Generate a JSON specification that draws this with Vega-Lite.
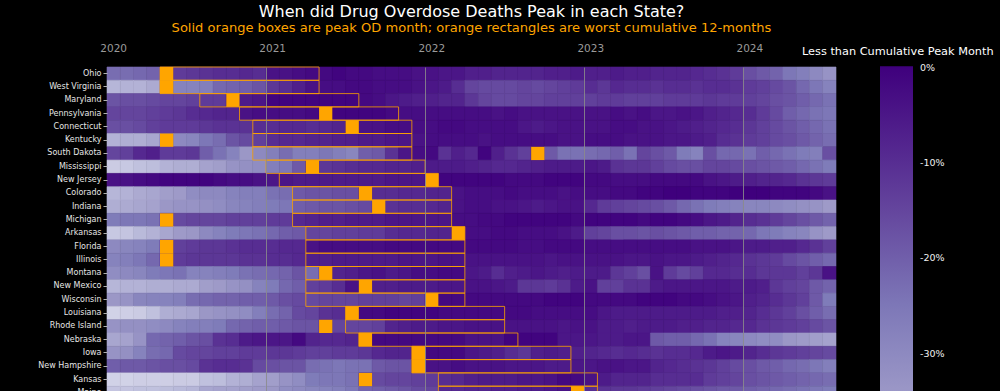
{
"$schema": "https://vega.github.io/schema/vega-lite/v6.json",
"background": "black",
"autosize": {"type": "none"},
"padding": {"left": 107, "top": 67, "right": 164, "bottom": 0},
"width": 729,
"height": 332.5,
"title": {"text": "When did Drug Overdose Deaths Peak in each State?", "subtitle": "Solid orange boxes are peak OD month; orange rectangles are worst cumulative 12-months", "color": "white", "subtitleColor": "#FFA500", "fontSize": 16, "subtitleFontSize": 13.05, "font": "DejaVu Sans", "subtitleFont": "DejaVu Sans", "fontWeight": "normal", "anchor": "middle", "frame": "group", "offset": 8, "subtitlePadding": 2},
"datasets": {
"peaks": [
{"s":"Ohio","m":"2020-05"},{"s":"West Virginia","m":"2020-05"},{"s":"Maryland","m":"2020-10"},{"s":"Pennsylvania","m":"2021-05"},{"s":"Connecticut","m":"2021-07"},{"s":"Kentucky","m":"2020-05"},{"s":"South Dakota","m":"2022-09"},{"s":"Mississippi","m":"2021-04"},{"s":"New Jersey","m":"2022-01"},{"s":"Colorado","m":"2021-08"},{"s":"Indiana","m":"2021-09"},{"s":"Michigan","m":"2020-05"},{"s":"Arkansas","m":"2022-03"},{"s":"Florida","m":"2020-05"},{"s":"Illinois","m":"2020-05"},{"s":"Montana","m":"2021-05"},{"s":"New Mexico","m":"2021-08"},{"s":"Wisconsin","m":"2022-01"},{"s":"Louisiana","m":"2021-07"},{"s":"Rhode Island","m":"2021-05"},{"s":"Nebraska","m":"2021-08"},{"s":"Iowa","m":"2021-12"},{"s":"New Hampshire","m":"2021-12"},{"s":"Kansas","m":"2021-08"},{"s":"Maine","m":"2022-12"}
],
"spans": [
{"s":"Ohio","a":"2020-05","b":"2021-04"},{"s":"West Virginia","a":"2020-05","b":"2021-04"},{"s":"Maryland","a":"2020-08","b":"2021-07"},{"s":"Pennsylvania","a":"2020-11","b":"2021-10"},{"s":"Connecticut","a":"2020-12","b":"2021-11"},{"s":"Kentucky","a":"2020-12","b":"2021-11"},{"s":"South Dakota","a":"2020-12","b":"2021-11"},{"s":"Mississippi","a":"2021-01","b":"2021-12"},{"s":"New Jersey","a":"2021-02","b":"2022-01"},{"s":"Colorado","a":"2021-03","b":"2022-02"},{"s":"Indiana","a":"2021-03","b":"2022-02"},{"s":"Michigan","a":"2021-03","b":"2022-02"},{"s":"Arkansas","a":"2021-04","b":"2022-03"},{"s":"Florida","a":"2021-04","b":"2022-03"},{"s":"Illinois","a":"2021-04","b":"2022-03"},{"s":"Montana","a":"2021-04","b":"2022-03"},{"s":"New Mexico","a":"2021-04","b":"2022-03"},{"s":"Wisconsin","a":"2021-04","b":"2022-03"},{"s":"Louisiana","a":"2021-07","b":"2022-06"},{"s":"Rhode Island","a":"2021-07","b":"2022-06"},{"s":"Nebraska","a":"2021-08","b":"2022-07"},{"s":"Iowa","a":"2021-12","b":"2022-11"},{"s":"New Hampshire","a":"2021-12","b":"2022-11"},{"s":"Kansas","a":"2022-02","b":"2023-01"},{"s":"Maine","a":"2022-02","b":"2023-01"}
],
"cells": [
{"s":"Ohio","m":"2020-01","v":-23},{"s":"Ohio","m":"2020-02","v":-23},{"s":"Ohio","m":"2020-03","v":-22},{"s":"Ohio","m":"2020-04","v":-21},{"s":"Ohio","m":"2020-05","v":-10},{"s":"Ohio","m":"2020-06","v":-13},{"s":"Ohio","m":"2020-07","v":-12},{"s":"Ohio","m":"2020-08","v":-11},{"s":"Ohio","m":"2020-09","v":-10},{"s":"Ohio","m":"2020-10","v":-10},{"s":"Ohio","m":"2020-11","v":-9},{"s":"Ohio","m":"2020-12","v":-10},
{"s":"Ohio","m":"2021-01","v":-4},{"s":"Ohio","m":"2021-02","v":-4},{"s":"Ohio","m":"2021-03","v":-3},{"s":"Ohio","m":"2021-04","v":-2},{"s":"Ohio","m":"2021-05","v":-2},{"s":"Ohio","m":"2021-06","v":-1},{"s":"Ohio","m":"2021-07","v":-2},{"s":"Ohio","m":"2021-08","v":-2},{"s":"Ohio","m":"2021-09","v":-3},{"s":"Ohio","m":"2021-10","v":-3},{"s":"Ohio","m":"2021-11","v":-3},{"s":"Ohio","m":"2021-12","v":-4},
{"s":"Ohio","m":"2022-01","v":-4},{"s":"Ohio","m":"2022-02","v":-5},{"s":"Ohio","m":"2022-03","v":-5},{"s":"Ohio","m":"2022-04","v":-7},{"s":"Ohio","m":"2022-05","v":-7},{"s":"Ohio","m":"2022-06","v":-8},{"s":"Ohio","m":"2022-07","v":-8},{"s":"Ohio","m":"2022-08","v":-8},{"s":"Ohio","m":"2022-09","v":-8},{"s":"Ohio","m":"2022-10","v":-7},{"s":"Ohio","m":"2022-11","v":-7},{"s":"Ohio","m":"2022-12","v":-6},
{"s":"Ohio","m":"2023-01","v":-7},{"s":"Ohio","m":"2023-02","v":-7},{"s":"Ohio","m":"2023-03","v":-6},{"s":"Ohio","m":"2023-04","v":-7},{"s":"Ohio","m":"2023-05","v":-7},{"s":"Ohio","m":"2023-06","v":-8},{"s":"Ohio","m":"2023-07","v":-8},{"s":"Ohio","m":"2023-08","v":-8},{"s":"Ohio","m":"2023-09","v":-9},{"s":"Ohio","m":"2023-10","v":-10},{"s":"Ohio","m":"2023-11","v":-11},{"s":"Ohio","m":"2023-12","v":-13},
{"s":"Ohio","m":"2024-01","v":-17},{"s":"Ohio","m":"2024-02","v":-19},{"s":"Ohio","m":"2024-03","v":-21},{"s":"Ohio","m":"2024-04","v":-25},{"s":"Ohio","m":"2024-05","v":-27},{"s":"Ohio","m":"2024-06","v":-30},{"s":"Ohio","m":"2024-07","v":-33},
{"s":"West Virginia","m":"2020-01","v":-42},{"s":"West Virginia","m":"2020-02","v":-41},{"s":"West Virginia","m":"2020-03","v":-41},{"s":"West Virginia","m":"2020-04","v":-39},{"s":"West Virginia","m":"2020-05","v":-20},{"s":"West Virginia","m":"2020-06","v":-28},{"s":"West Virginia","m":"2020-07","v":-28},{"s":"West Virginia","m":"2020-08","v":-27},{"s":"West Virginia","m":"2020-09","v":-22},{"s":"West Virginia","m":"2020-10","v":-21},{"s":"West Virginia","m":"2020-11","v":-20},{"s":"West Virginia","m":"2020-12","v":-18},
{"s":"West Virginia","m":"2021-01","v":-12},{"s":"West Virginia","m":"2021-02","v":-10},{"s":"West Virginia","m":"2021-03","v":-7},{"s":"West Virginia","m":"2021-04","v":-4},{"s":"West Virginia","m":"2021-05","v":-3},{"s":"West Virginia","m":"2021-06","v":-3},{"s":"West Virginia","m":"2021-07","v":-2},{"s":"West Virginia","m":"2021-08","v":-2},{"s":"West Virginia","m":"2021-09","v":-3},{"s":"West Virginia","m":"2021-10","v":-3},{"s":"West Virginia","m":"2021-11","v":-3},{"s":"West Virginia","m":"2021-12","v":-4},
{"s":"West Virginia","m":"2022-01","v":-5},{"s":"West Virginia","m":"2022-02","v":-6},{"s":"West Virginia","m":"2022-03","v":-10},{"s":"West Virginia","m":"2022-04","v":-15},{"s":"West Virginia","m":"2022-05","v":-16},{"s":"West Virginia","m":"2022-06","v":-16},{"s":"West Virginia","m":"2022-07","v":-16},{"s":"West Virginia","m":"2022-08","v":-15},{"s":"West Virginia","m":"2022-09","v":-16},{"s":"West Virginia","m":"2022-10","v":-15},{"s":"West Virginia","m":"2022-11","v":-14},{"s":"West Virginia","m":"2022-12","v":-13},
{"s":"West Virginia","m":"2023-01","v":-10},{"s":"West Virginia","m":"2023-02","v":-12},{"s":"West Virginia","m":"2023-03","v":-9},{"s":"West Virginia","m":"2023-04","v":-10},{"s":"West Virginia","m":"2023-05","v":-10},{"s":"West Virginia","m":"2023-06","v":-11},{"s":"West Virginia","m":"2023-07","v":-10},{"s":"West Virginia","m":"2023-08","v":-10},{"s":"West Virginia","m":"2023-09","v":-11},{"s":"West Virginia","m":"2023-10","v":-10},{"s":"West Virginia","m":"2023-11","v":-10},{"s":"West Virginia","m":"2023-12","v":-11},
{"s":"West Virginia","m":"2024-01","v":-13},{"s":"West Virginia","m":"2024-02","v":-14},{"s":"West Virginia","m":"2024-03","v":-16},{"s":"West Virginia","m":"2024-04","v":-18},{"s":"West Virginia","m":"2024-05","v":-22},{"s":"West Virginia","m":"2024-06","v":-25},{"s":"West Virginia","m":"2024-07","v":-28},
{"s":"Maryland","m":"2020-01","v":-18},{"s":"Maryland","m":"2020-02","v":-17},{"s":"Maryland","m":"2020-03","v":-17},{"s":"Maryland","m":"2020-04","v":-16},{"s":"Maryland","m":"2020-05","v":-15},{"s":"Maryland","m":"2020-06","v":-15},{"s":"Maryland","m":"2020-07","v":-14},{"s":"Maryland","m":"2020-08","v":-13},{"s":"Maryland","m":"2020-09","v":-13},{"s":"Maryland","m":"2020-10","v":-5},{"s":"Maryland","m":"2020-11","v":-6},{"s":"Maryland","m":"2020-12","v":-5},
{"s":"Maryland","m":"2021-01","v":-1},{"s":"Maryland","m":"2021-02","v":-1},{"s":"Maryland","m":"2021-03","v":-1},{"s":"Maryland","m":"2021-04","v":-1},{"s":"Maryland","m":"2021-05","v":-1},{"s":"Maryland","m":"2021-06","v":-1},{"s":"Maryland","m":"2021-07","v":-1},{"s":"Maryland","m":"2021-08","v":-2},{"s":"Maryland","m":"2021-09","v":-3},{"s":"Maryland","m":"2021-10","v":-5},{"s":"Maryland","m":"2021-11","v":-6},{"s":"Maryland","m":"2021-12","v":-7},
{"s":"Maryland","m":"2022-01","v":-7},{"s":"Maryland","m":"2022-02","v":-8},{"s":"Maryland","m":"2022-03","v":-8},{"s":"Maryland","m":"2022-04","v":-12},{"s":"Maryland","m":"2022-05","v":-15},{"s":"Maryland","m":"2022-06","v":-16},{"s":"Maryland","m":"2022-07","v":-16},{"s":"Maryland","m":"2022-08","v":-15},{"s":"Maryland","m":"2022-09","v":-15},{"s":"Maryland","m":"2022-10","v":-14},{"s":"Maryland","m":"2022-11","v":-14},{"s":"Maryland","m":"2022-12","v":-14},
{"s":"Maryland","m":"2023-01","v":-14},{"s":"Maryland","m":"2023-02","v":-13},{"s":"Maryland","m":"2023-03","v":-13},{"s":"Maryland","m":"2023-04","v":-14},{"s":"Maryland","m":"2023-05","v":-14},{"s":"Maryland","m":"2023-06","v":-14},{"s":"Maryland","m":"2023-07","v":-13},{"s":"Maryland","m":"2023-08","v":-13},{"s":"Maryland","m":"2023-09","v":-13},{"s":"Maryland","m":"2023-10","v":-12},{"s":"Maryland","m":"2023-11","v":-13},{"s":"Maryland","m":"2023-12","v":-13},
{"s":"Maryland","m":"2024-01","v":-14},{"s":"Maryland","m":"2024-02","v":-15},{"s":"Maryland","m":"2024-03","v":-17},{"s":"Maryland","m":"2024-04","v":-18},{"s":"Maryland","m":"2024-05","v":-20},{"s":"Maryland","m":"2024-06","v":-22},{"s":"Maryland","m":"2024-07","v":-24},
{"s":"Pennsylvania","m":"2020-01","v":-15},{"s":"Pennsylvania","m":"2020-02","v":-15},{"s":"Pennsylvania","m":"2020-03","v":-15},{"s":"Pennsylvania","m":"2020-04","v":-14},{"s":"Pennsylvania","m":"2020-05","v":-13},{"s":"Pennsylvania","m":"2020-06","v":-12},{"s":"Pennsylvania","m":"2020-07","v":-10},{"s":"Pennsylvania","m":"2020-08","v":-9},{"s":"Pennsylvania","m":"2020-09","v":-8},{"s":"Pennsylvania","m":"2020-10","v":-8},{"s":"Pennsylvania","m":"2020-11","v":-4},{"s":"Pennsylvania","m":"2020-12","v":-3},
{"s":"Pennsylvania","m":"2021-01","v":-3},{"s":"Pennsylvania","m":"2021-02","v":-3},{"s":"Pennsylvania","m":"2021-03","v":-3},{"s":"Pennsylvania","m":"2021-04","v":-2},{"s":"Pennsylvania","m":"2021-05","v":-1},{"s":"Pennsylvania","m":"2021-06","v":-1},{"s":"Pennsylvania","m":"2021-07","v":-1},{"s":"Pennsylvania","m":"2021-08","v":-1},{"s":"Pennsylvania","m":"2021-09","v":-1},{"s":"Pennsylvania","m":"2021-10","v":-2},{"s":"Pennsylvania","m":"2021-11","v":-3},{"s":"Pennsylvania","m":"2021-12","v":-3},
{"s":"Pennsylvania","m":"2022-01","v":-3},{"s":"Pennsylvania","m":"2022-02","v":-3},{"s":"Pennsylvania","m":"2022-03","v":-3},{"s":"Pennsylvania","m":"2022-04","v":-3},{"s":"Pennsylvania","m":"2022-05","v":-3},{"s":"Pennsylvania","m":"2022-06","v":-4},{"s":"Pennsylvania","m":"2022-07","v":-3},{"s":"Pennsylvania","m":"2022-08","v":-4},{"s":"Pennsylvania","m":"2022-09","v":-4},{"s":"Pennsylvania","m":"2022-10","v":-4},{"s":"Pennsylvania","m":"2022-11","v":-4},{"s":"Pennsylvania","m":"2022-12","v":-4},
{"s":"Pennsylvania","m":"2023-01","v":-4},{"s":"Pennsylvania","m":"2023-02","v":-4},{"s":"Pennsylvania","m":"2023-03","v":-3},{"s":"Pennsylvania","m":"2023-04","v":-4},{"s":"Pennsylvania","m":"2023-05","v":-3},{"s":"Pennsylvania","m":"2023-06","v":-5},{"s":"Pennsylvania","m":"2023-07","v":-5},{"s":"Pennsylvania","m":"2023-08","v":-4},{"s":"Pennsylvania","m":"2023-09","v":-5},{"s":"Pennsylvania","m":"2023-10","v":-7},{"s":"Pennsylvania","m":"2023-11","v":-8},{"s":"Pennsylvania","m":"2023-12","v":-9},
{"s":"Pennsylvania","m":"2024-01","v":-10},{"s":"Pennsylvania","m":"2024-02","v":-13},{"s":"Pennsylvania","m":"2024-03","v":-16},{"s":"Pennsylvania","m":"2024-04","v":-20},{"s":"Pennsylvania","m":"2024-05","v":-22},{"s":"Pennsylvania","m":"2024-06","v":-24},{"s":"Pennsylvania","m":"2024-07","v":-25},
{"s":"Connecticut","m":"2020-01","v":-17},{"s":"Connecticut","m":"2020-02","v":-17},{"s":"Connecticut","m":"2020-03","v":-16},{"s":"Connecticut","m":"2020-04","v":-14},{"s":"Connecticut","m":"2020-05","v":-13},{"s":"Connecticut","m":"2020-06","v":-13},{"s":"Connecticut","m":"2020-07","v":-13},{"s":"Connecticut","m":"2020-08","v":-12},{"s":"Connecticut","m":"2020-09","v":-11},{"s":"Connecticut","m":"2020-10","v":-11},{"s":"Connecticut","m":"2020-11","v":-11},{"s":"Connecticut","m":"2020-12","v":-10},
{"s":"Connecticut","m":"2021-01","v":-10},{"s":"Connecticut","m":"2021-02","v":-9},{"s":"Connecticut","m":"2021-03","v":-9},{"s":"Connecticut","m":"2021-04","v":-10},{"s":"Connecticut","m":"2021-05","v":-9},{"s":"Connecticut","m":"2021-06","v":-8},{"s":"Connecticut","m":"2021-07","v":-3},{"s":"Connecticut","m":"2021-08","v":-4},{"s":"Connecticut","m":"2021-09","v":-4},{"s":"Connecticut","m":"2021-10","v":-3},{"s":"Connecticut","m":"2021-11","v":-3},{"s":"Connecticut","m":"2021-12","v":-3},
{"s":"Connecticut","m":"2022-01","v":-3},{"s":"Connecticut","m":"2022-02","v":-2},{"s":"Connecticut","m":"2022-03","v":-2},{"s":"Connecticut","m":"2022-04","v":-3},{"s":"Connecticut","m":"2022-05","v":-3},{"s":"Connecticut","m":"2022-06","v":-3},{"s":"Connecticut","m":"2022-07","v":-3},{"s":"Connecticut","m":"2022-08","v":-5},{"s":"Connecticut","m":"2022-09","v":-6},{"s":"Connecticut","m":"2022-10","v":-5},{"s":"Connecticut","m":"2022-11","v":-4},{"s":"Connecticut","m":"2022-12","v":-4},
{"s":"Connecticut","m":"2023-01","v":-4},{"s":"Connecticut","m":"2023-02","v":-4},{"s":"Connecticut","m":"2023-03","v":-3},{"s":"Connecticut","m":"2023-04","v":-3},{"s":"Connecticut","m":"2023-05","v":-4},{"s":"Connecticut","m":"2023-06","v":-4},{"s":"Connecticut","m":"2023-07","v":-5},{"s":"Connecticut","m":"2023-08","v":-6},{"s":"Connecticut","m":"2023-09","v":-7},{"s":"Connecticut","m":"2023-10","v":-8},{"s":"Connecticut","m":"2023-11","v":-9},{"s":"Connecticut","m":"2023-12","v":-10},
{"s":"Connecticut","m":"2024-01","v":-12},{"s":"Connecticut","m":"2024-02","v":-14},{"s":"Connecticut","m":"2024-03","v":-16},{"s":"Connecticut","m":"2024-04","v":-18},{"s":"Connecticut","m":"2024-05","v":-20},{"s":"Connecticut","m":"2024-06","v":-22},{"s":"Connecticut","m":"2024-07","v":-24},
{"s":"Kentucky","m":"2020-01","v":-41},{"s":"Kentucky","m":"2020-02","v":-40},{"s":"Kentucky","m":"2020-03","v":-40},{"s":"Kentucky","m":"2020-04","v":-38},{"s":"Kentucky","m":"2020-05","v":-20},{"s":"Kentucky","m":"2020-06","v":-30},{"s":"Kentucky","m":"2020-07","v":-29},{"s":"Kentucky","m":"2020-08","v":-25},{"s":"Kentucky","m":"2020-09","v":-23},{"s":"Kentucky","m":"2020-10","v":-18},{"s":"Kentucky","m":"2020-11","v":-16},{"s":"Kentucky","m":"2020-12","v":-14},
{"s":"Kentucky","m":"2021-01","v":-10},{"s":"Kentucky","m":"2021-02","v":-9},{"s":"Kentucky","m":"2021-03","v":-9},{"s":"Kentucky","m":"2021-04","v":-8},{"s":"Kentucky","m":"2021-05","v":-8},{"s":"Kentucky","m":"2021-06","v":-7},{"s":"Kentucky","m":"2021-07","v":-7},{"s":"Kentucky","m":"2021-08","v":-6},{"s":"Kentucky","m":"2021-09","v":-6},{"s":"Kentucky","m":"2021-10","v":-5},{"s":"Kentucky","m":"2021-11","v":-5},{"s":"Kentucky","m":"2021-12","v":-4},
{"s":"Kentucky","m":"2022-01","v":-3},{"s":"Kentucky","m":"2022-02","v":-3},{"s":"Kentucky","m":"2022-03","v":-3},{"s":"Kentucky","m":"2022-04","v":-3},{"s":"Kentucky","m":"2022-05","v":-4},{"s":"Kentucky","m":"2022-06","v":-3},{"s":"Kentucky","m":"2022-07","v":-3},{"s":"Kentucky","m":"2022-08","v":-3},{"s":"Kentucky","m":"2022-09","v":-3},{"s":"Kentucky","m":"2022-10","v":-3},{"s":"Kentucky","m":"2022-11","v":-4},{"s":"Kentucky","m":"2022-12","v":-4},
{"s":"Kentucky","m":"2023-01","v":-3},{"s":"Kentucky","m":"2023-02","v":-3},{"s":"Kentucky","m":"2023-03","v":-3},{"s":"Kentucky","m":"2023-04","v":-4},{"s":"Kentucky","m":"2023-05","v":-4},{"s":"Kentucky","m":"2023-06","v":-4},{"s":"Kentucky","m":"2023-07","v":-5},{"s":"Kentucky","m":"2023-08","v":-5},{"s":"Kentucky","m":"2023-09","v":-6},{"s":"Kentucky","m":"2023-10","v":-7},{"s":"Kentucky","m":"2023-11","v":-10},{"s":"Kentucky","m":"2023-12","v":-11},
{"s":"Kentucky","m":"2024-01","v":-13},{"s":"Kentucky","m":"2024-02","v":-14},{"s":"Kentucky","m":"2024-03","v":-16},{"s":"Kentucky","m":"2024-04","v":-17},{"s":"Kentucky","m":"2024-05","v":-19},{"s":"Kentucky","m":"2024-06","v":-21},{"s":"Kentucky","m":"2024-07","v":-23},
{"s":"South Dakota","m":"2020-01","v":-15},{"s":"South Dakota","m":"2020-02","v":-14},{"s":"South Dakota","m":"2020-03","v":-9},{"s":"South Dakota","m":"2020-04","v":-7},{"s":"South Dakota","m":"2020-05","v":-13},{"s":"South Dakota","m":"2020-06","v":-13},{"s":"South Dakota","m":"2020-07","v":-12},{"s":"South Dakota","m":"2020-08","v":-20},{"s":"South Dakota","m":"2020-09","v":-24},{"s":"South Dakota","m":"2020-10","v":-28},{"s":"South Dakota","m":"2020-11","v":-34},{"s":"South Dakota","m":"2020-12","v":-30},
{"s":"South Dakota","m":"2021-01","v":-27},{"s":"South Dakota","m":"2021-02","v":-23},{"s":"South Dakota","m":"2021-03","v":-27},{"s":"South Dakota","m":"2021-04","v":-27},{"s":"South Dakota","m":"2021-05","v":-25},{"s":"South Dakota","m":"2021-06","v":-27},{"s":"South Dakota","m":"2021-07","v":-29},{"s":"South Dakota","m":"2021-08","v":-20},{"s":"South Dakota","m":"2021-09","v":-19},{"s":"South Dakota","m":"2021-10","v":-11},{"s":"South Dakota","m":"2021-11","v":-5},{"s":"South Dakota","m":"2021-12","v":-3},
{"s":"South Dakota","m":"2022-01","v":-2},{"s":"South Dakota","m":"2022-02","v":-11},{"s":"South Dakota","m":"2022-03","v":-7},{"s":"South Dakota","m":"2022-04","v":-9},{"s":"South Dakota","m":"2022-05","v":-1},{"s":"South Dakota","m":"2022-06","v":-7},{"s":"South Dakota","m":"2022-07","v":-11},{"s":"South Dakota","m":"2022-08","v":-14},{"s":"South Dakota","m":"2022-09","v":-5},{"s":"South Dakota","m":"2022-10","v":-19},{"s":"South Dakota","m":"2022-11","v":-24},{"s":"South Dakota","m":"2022-12","v":-24},
{"s":"South Dakota","m":"2023-01","v":-23},{"s":"South Dakota","m":"2023-02","v":-22},{"s":"South Dakota","m":"2023-03","v":-20},{"s":"South Dakota","m":"2023-04","v":-24},{"s":"South Dakota","m":"2023-05","v":-15},{"s":"South Dakota","m":"2023-06","v":-17},{"s":"South Dakota","m":"2023-07","v":-19},{"s":"South Dakota","m":"2023-08","v":-26},{"s":"South Dakota","m":"2023-09","v":-28},{"s":"South Dakota","m":"2023-10","v":-17},{"s":"South Dakota","m":"2023-11","v":-22},{"s":"South Dakota","m":"2023-12","v":-22},
{"s":"South Dakota","m":"2024-01","v":-24},{"s":"South Dakota","m":"2024-02","v":-20},{"s":"South Dakota","m":"2024-03","v":-22},{"s":"South Dakota","m":"2024-04","v":-24},{"s":"South Dakota","m":"2024-05","v":-26},{"s":"South Dakota","m":"2024-06","v":-27},{"s":"South Dakota","m":"2024-07","v":-17},
{"s":"Mississippi","m":"2020-01","v":-48},{"s":"Mississippi","m":"2020-02","v":-47},{"s":"Mississippi","m":"2020-03","v":-45},{"s":"Mississippi","m":"2020-04","v":-44},{"s":"Mississippi","m":"2020-05","v":-41},{"s":"Mississippi","m":"2020-06","v":-40},{"s":"Mississippi","m":"2020-07","v":-40},{"s":"Mississippi","m":"2020-08","v":-37},{"s":"Mississippi","m":"2020-09","v":-36},{"s":"Mississippi","m":"2020-10","v":-33},{"s":"Mississippi","m":"2020-11","v":-32},{"s":"Mississippi","m":"2020-12","v":-31},
{"s":"Mississippi","m":"2021-01","v":-27},{"s":"Mississippi","m":"2021-02","v":-25},{"s":"Mississippi","m":"2021-03","v":-19},{"s":"Mississippi","m":"2021-04","v":-8},{"s":"Mississippi","m":"2021-05","v":-12},{"s":"Mississippi","m":"2021-06","v":-11},{"s":"Mississippi","m":"2021-07","v":-10},{"s":"Mississippi","m":"2021-08","v":-9},{"s":"Mississippi","m":"2021-09","v":-9},{"s":"Mississippi","m":"2021-10","v":-8},{"s":"Mississippi","m":"2021-11","v":-8},{"s":"Mississippi","m":"2021-12","v":-7},
{"s":"Mississippi","m":"2022-01","v":-6},{"s":"Mississippi","m":"2022-02","v":-6},{"s":"Mississippi","m":"2022-03","v":-6},{"s":"Mississippi","m":"2022-04","v":-7},{"s":"Mississippi","m":"2022-05","v":-8},{"s":"Mississippi","m":"2022-06","v":-9},{"s":"Mississippi","m":"2022-07","v":-9},{"s":"Mississippi","m":"2022-08","v":-8},{"s":"Mississippi","m":"2022-09","v":-7},{"s":"Mississippi","m":"2022-10","v":-6},{"s":"Mississippi","m":"2022-11","v":-6},{"s":"Mississippi","m":"2022-12","v":-6},
{"s":"Mississippi","m":"2023-01","v":-5},{"s":"Mississippi","m":"2023-02","v":-6},{"s":"Mississippi","m":"2023-03","v":-11},{"s":"Mississippi","m":"2023-04","v":-12},{"s":"Mississippi","m":"2023-05","v":-12},{"s":"Mississippi","m":"2023-06","v":-14},{"s":"Mississippi","m":"2023-07","v":-16},{"s":"Mississippi","m":"2023-08","v":-17},{"s":"Mississippi","m":"2023-09","v":-17},{"s":"Mississippi","m":"2023-10","v":-15},{"s":"Mississippi","m":"2023-11","v":-15},{"s":"Mississippi","m":"2023-12","v":-16},
{"s":"Mississippi","m":"2024-01","v":-17},{"s":"Mississippi","m":"2024-02","v":-18},{"s":"Mississippi","m":"2024-03","v":-19},{"s":"Mississippi","m":"2024-04","v":-20},{"s":"Mississippi","m":"2024-05","v":-22},{"s":"Mississippi","m":"2024-06","v":-24},{"s":"Mississippi","m":"2024-07","v":-26},
{"s":"New Jersey","m":"2020-01","v":-4},{"s":"New Jersey","m":"2020-02","v":-4},{"s":"New Jersey","m":"2020-03","v":-3},{"s":"New Jersey","m":"2020-04","v":-2},{"s":"New Jersey","m":"2020-05","v":-1},{"s":"New Jersey","m":"2020-06","v":-1},{"s":"New Jersey","m":"2020-07","v":-1},{"s":"New Jersey","m":"2020-08","v":-1},{"s":"New Jersey","m":"2020-09","v":-2},{"s":"New Jersey","m":"2020-10","v":-3},{"s":"New Jersey","m":"2020-11","v":-3},{"s":"New Jersey","m":"2020-12","v":-4},
{"s":"New Jersey","m":"2021-01","v":-5},{"s":"New Jersey","m":"2021-02","v":-5},{"s":"New Jersey","m":"2021-03","v":-6},{"s":"New Jersey","m":"2021-04","v":-6},{"s":"New Jersey","m":"2021-05","v":-6},{"s":"New Jersey","m":"2021-06","v":-6},{"s":"New Jersey","m":"2021-07","v":-6},{"s":"New Jersey","m":"2021-08","v":-6},{"s":"New Jersey","m":"2021-09","v":-6},{"s":"New Jersey","m":"2021-10","v":-5},{"s":"New Jersey","m":"2021-11","v":-5},{"s":"New Jersey","m":"2021-12","v":-5},
{"s":"New Jersey","m":"2022-01","v":0},{"s":"New Jersey","m":"2022-02","v":-1},{"s":"New Jersey","m":"2022-03","v":-1},{"s":"New Jersey","m":"2022-04","v":-1},{"s":"New Jersey","m":"2022-05","v":-1},{"s":"New Jersey","m":"2022-06","v":-1},{"s":"New Jersey","m":"2022-07","v":-2},{"s":"New Jersey","m":"2022-08","v":-2},{"s":"New Jersey","m":"2022-09","v":-2},{"s":"New Jersey","m":"2022-10","v":-1},{"s":"New Jersey","m":"2022-11","v":-1},{"s":"New Jersey","m":"2022-12","v":-1},
{"s":"New Jersey","m":"2023-01","v":-2},{"s":"New Jersey","m":"2023-02","v":-2},{"s":"New Jersey","m":"2023-03","v":-3},{"s":"New Jersey","m":"2023-04","v":-3},{"s":"New Jersey","m":"2023-05","v":-3},{"s":"New Jersey","m":"2023-06","v":-2},{"s":"New Jersey","m":"2023-07","v":-2},{"s":"New Jersey","m":"2023-08","v":-2},{"s":"New Jersey","m":"2023-09","v":-2},{"s":"New Jersey","m":"2023-10","v":-4},{"s":"New Jersey","m":"2023-11","v":-5},{"s":"New Jersey","m":"2023-12","v":-6},
{"s":"New Jersey","m":"2024-01","v":-7},{"s":"New Jersey","m":"2024-02","v":-8},{"s":"New Jersey","m":"2024-03","v":-8},{"s":"New Jersey","m":"2024-04","v":-9},{"s":"New Jersey","m":"2024-05","v":-11},{"s":"New Jersey","m":"2024-06","v":-12},{"s":"New Jersey","m":"2024-07","v":-13},
{"s":"Colorado","m":"2020-01","v":-42},{"s":"Colorado","m":"2020-02","v":-41},{"s":"Colorado","m":"2020-03","v":-39},{"s":"Colorado","m":"2020-04","v":-38},{"s":"Colorado","m":"2020-05","v":-36},{"s":"Colorado","m":"2020-06","v":-35},{"s":"Colorado","m":"2020-07","v":-31},{"s":"Colorado","m":"2020-08","v":-30},{"s":"Colorado","m":"2020-09","v":-30},{"s":"Colorado","m":"2020-10","v":-28},{"s":"Colorado","m":"2020-11","v":-27},{"s":"Colorado","m":"2020-12","v":-27},
{"s":"Colorado","m":"2021-01","v":-24},{"s":"Colorado","m":"2021-02","v":-23},{"s":"Colorado","m":"2021-03","v":-19},{"s":"Colorado","m":"2021-04","v":-18},{"s":"Colorado","m":"2021-05","v":-18},{"s":"Colorado","m":"2021-06","v":-17},{"s":"Colorado","m":"2021-07","v":-17},{"s":"Colorado","m":"2021-08","v":-8},{"s":"Colorado","m":"2021-09","v":-10},{"s":"Colorado","m":"2021-10","v":-10},{"s":"Colorado","m":"2021-11","v":-9},{"s":"Colorado","m":"2021-12","v":-9},
{"s":"Colorado","m":"2022-01","v":-8},{"s":"Colorado","m":"2022-02","v":-8},{"s":"Colorado","m":"2022-03","v":-4},{"s":"Colorado","m":"2022-04","v":-3},{"s":"Colorado","m":"2022-05","v":-3},{"s":"Colorado","m":"2022-06","v":-3},{"s":"Colorado","m":"2022-07","v":-2},{"s":"Colorado","m":"2022-08","v":-3},{"s":"Colorado","m":"2022-09","v":-3},{"s":"Colorado","m":"2022-10","v":-3},{"s":"Colorado","m":"2022-11","v":-4},{"s":"Colorado","m":"2022-12","v":-3},
{"s":"Colorado","m":"2023-01","v":-3},{"s":"Colorado","m":"2023-02","v":-3},{"s":"Colorado","m":"2023-03","v":-2},{"s":"Colorado","m":"2023-04","v":-2},{"s":"Colorado","m":"2023-05","v":-1},{"s":"Colorado","m":"2023-06","v":-1},{"s":"Colorado","m":"2023-07","v":0},{"s":"Colorado","m":"2023-08","v":0},{"s":"Colorado","m":"2023-09","v":-1},{"s":"Colorado","m":"2023-10","v":-1},{"s":"Colorado","m":"2023-11","v":-1},{"s":"Colorado","m":"2023-12","v":0},
{"s":"Colorado","m":"2024-01","v":0},{"s":"Colorado","m":"2024-02","v":0},{"s":"Colorado","m":"2024-03","v":-1},{"s":"Colorado","m":"2024-04","v":-1},{"s":"Colorado","m":"2024-05","v":-1},{"s":"Colorado","m":"2024-06","v":-2},{"s":"Colorado","m":"2024-07","v":-4},
{"s":"Indiana","m":"2020-01","v":-40},{"s":"Indiana","m":"2020-02","v":-39},{"s":"Indiana","m":"2020-03","v":-38},{"s":"Indiana","m":"2020-04","v":-37},{"s":"Indiana","m":"2020-05","v":-34},{"s":"Indiana","m":"2020-06","v":-33},{"s":"Indiana","m":"2020-07","v":-33},{"s":"Indiana","m":"2020-08","v":-32},{"s":"Indiana","m":"2020-09","v":-31},{"s":"Indiana","m":"2020-10","v":-29},{"s":"Indiana","m":"2020-11","v":-28},{"s":"Indiana","m":"2020-12","v":-27},
{"s":"Indiana","m":"2021-01","v":-26},{"s":"Indiana","m":"2021-02","v":-25},{"s":"Indiana","m":"2021-03","v":-20},{"s":"Indiana","m":"2021-04","v":-19},{"s":"Indiana","m":"2021-05","v":-18},{"s":"Indiana","m":"2021-06","v":-18},{"s":"Indiana","m":"2021-07","v":-17},{"s":"Indiana","m":"2021-08","v":-16},{"s":"Indiana","m":"2021-09","v":-10},{"s":"Indiana","m":"2021-10","v":-11},{"s":"Indiana","m":"2021-11","v":-10},{"s":"Indiana","m":"2021-12","v":-10},
{"s":"Indiana","m":"2022-01","v":-9},{"s":"Indiana","m":"2022-02","v":-8},{"s":"Indiana","m":"2022-03","v":-4},{"s":"Indiana","m":"2022-04","v":-3},{"s":"Indiana","m":"2022-05","v":-3},{"s":"Indiana","m":"2022-06","v":-4},{"s":"Indiana","m":"2022-07","v":-4},{"s":"Indiana","m":"2022-08","v":-5},{"s":"Indiana","m":"2022-09","v":-6},{"s":"Indiana","m":"2022-10","v":-5},{"s":"Indiana","m":"2022-11","v":-4},{"s":"Indiana","m":"2022-12","v":-4},
{"s":"Indiana","m":"2023-01","v":-9},{"s":"Indiana","m":"2023-02","v":-13},{"s":"Indiana","m":"2023-03","v":-14},{"s":"Indiana","m":"2023-04","v":-15},{"s":"Indiana","m":"2023-05","v":-16},{"s":"Indiana","m":"2023-06","v":-17},{"s":"Indiana","m":"2023-07","v":-19},{"s":"Indiana","m":"2023-08","v":-22},{"s":"Indiana","m":"2023-09","v":-24},{"s":"Indiana","m":"2023-10","v":-26},{"s":"Indiana","m":"2023-11","v":-27},{"s":"Indiana","m":"2023-12","v":-28},
{"s":"Indiana","m":"2024-01","v":-29},{"s":"Indiana","m":"2024-02","v":-29},{"s":"Indiana","m":"2024-03","v":-30},{"s":"Indiana","m":"2024-04","v":-31},{"s":"Indiana","m":"2024-05","v":-32},{"s":"Indiana","m":"2024-06","v":-33},{"s":"Indiana","m":"2024-07","v":-35},
{"s":"Michigan","m":"2020-01","v":-26},{"s":"Michigan","m":"2020-02","v":-25},{"s":"Michigan","m":"2020-03","v":-25},{"s":"Michigan","m":"2020-04","v":-24},{"s":"Michigan","m":"2020-05","v":-10},{"s":"Michigan","m":"2020-06","v":-16},{"s":"Michigan","m":"2020-07","v":-15},{"s":"Michigan","m":"2020-08","v":-15},{"s":"Michigan","m":"2020-09","v":-15},{"s":"Michigan","m":"2020-10","v":-14},{"s":"Michigan","m":"2020-11","v":-14},{"s":"Michigan","m":"2020-12","v":-14},
{"s":"Michigan","m":"2021-01","v":-13},{"s":"Michigan","m":"2021-02","v":-13},{"s":"Michigan","m":"2021-03","v":-9},{"s":"Michigan","m":"2021-04","v":-8},{"s":"Michigan","m":"2021-05","v":-7},{"s":"Michigan","m":"2021-06","v":-7},{"s":"Michigan","m":"2021-07","v":-6},{"s":"Michigan","m":"2021-08","v":-6},{"s":"Michigan","m":"2021-09","v":-6},{"s":"Michigan","m":"2021-10","v":-5},{"s":"Michigan","m":"2021-11","v":-5},{"s":"Michigan","m":"2021-12","v":-5},
{"s":"Michigan","m":"2022-01","v":-5},{"s":"Michigan","m":"2022-02","v":-5},{"s":"Michigan","m":"2022-03","v":-3},{"s":"Michigan","m":"2022-04","v":-3},{"s":"Michigan","m":"2022-05","v":-2},{"s":"Michigan","m":"2022-06","v":-2},{"s":"Michigan","m":"2022-07","v":-1},{"s":"Michigan","m":"2022-08","v":-1},{"s":"Michigan","m":"2022-09","v":-1},{"s":"Michigan","m":"2022-10","v":-1},{"s":"Michigan","m":"2022-11","v":-1},{"s":"Michigan","m":"2022-12","v":-2},
{"s":"Michigan","m":"2023-01","v":-1},{"s":"Michigan","m":"2023-02","v":-1},{"s":"Michigan","m":"2023-03","v":-1},{"s":"Michigan","m":"2023-04","v":-1},{"s":"Michigan","m":"2023-05","v":-2},{"s":"Michigan","m":"2023-06","v":-1},{"s":"Michigan","m":"2023-07","v":-1},{"s":"Michigan","m":"2023-08","v":-2},{"s":"Michigan","m":"2023-09","v":-3},{"s":"Michigan","m":"2023-10","v":-5},{"s":"Michigan","m":"2023-11","v":-6},{"s":"Michigan","m":"2023-12","v":-8},
{"s":"Michigan","m":"2024-01","v":-10},{"s":"Michigan","m":"2024-02","v":-11},{"s":"Michigan","m":"2024-03","v":-13},{"s":"Michigan","m":"2024-04","v":-15},{"s":"Michigan","m":"2024-05","v":-17},{"s":"Michigan","m":"2024-06","v":-19},{"s":"Michigan","m":"2024-07","v":-21},
{"s":"Arkansas","m":"2020-01","v":-47},{"s":"Arkansas","m":"2020-02","v":-46},{"s":"Arkansas","m":"2020-03","v":-43},{"s":"Arkansas","m":"2020-04","v":-41},{"s":"Arkansas","m":"2020-05","v":-38},{"s":"Arkansas","m":"2020-06","v":-35},{"s":"Arkansas","m":"2020-07","v":-34},{"s":"Arkansas","m":"2020-08","v":-30},{"s":"Arkansas","m":"2020-09","v":-28},{"s":"Arkansas","m":"2020-10","v":-26},{"s":"Arkansas","m":"2020-11","v":-25},{"s":"Arkansas","m":"2020-12","v":-24},
{"s":"Arkansas","m":"2021-01","v":-22},{"s":"Arkansas","m":"2021-02","v":-20},{"s":"Arkansas","m":"2021-03","v":-19},{"s":"Arkansas","m":"2021-04","v":-15},{"s":"Arkansas","m":"2021-05","v":-15},{"s":"Arkansas","m":"2021-06","v":-14},{"s":"Arkansas","m":"2021-07","v":-14},{"s":"Arkansas","m":"2021-08","v":-13},{"s":"Arkansas","m":"2021-09","v":-13},{"s":"Arkansas","m":"2021-10","v":-10},{"s":"Arkansas","m":"2021-11","v":-9},{"s":"Arkansas","m":"2021-12","v":-9},
{"s":"Arkansas","m":"2022-01","v":-8},{"s":"Arkansas","m":"2022-02","v":-8},{"s":"Arkansas","m":"2022-03","v":-3},{"s":"Arkansas","m":"2022-04","v":-3},{"s":"Arkansas","m":"2022-05","v":-3},{"s":"Arkansas","m":"2022-06","v":-2},{"s":"Arkansas","m":"2022-07","v":-2},{"s":"Arkansas","m":"2022-08","v":-3},{"s":"Arkansas","m":"2022-09","v":-3},{"s":"Arkansas","m":"2022-10","v":-3},{"s":"Arkansas","m":"2022-11","v":-4},{"s":"Arkansas","m":"2022-12","v":-6},
{"s":"Arkansas","m":"2023-01","v":-14},{"s":"Arkansas","m":"2023-02","v":-15},{"s":"Arkansas","m":"2023-03","v":-17},{"s":"Arkansas","m":"2023-04","v":-17},{"s":"Arkansas","m":"2023-05","v":-18},{"s":"Arkansas","m":"2023-06","v":-17},{"s":"Arkansas","m":"2023-07","v":-18},{"s":"Arkansas","m":"2023-08","v":-19},{"s":"Arkansas","m":"2023-09","v":-20},{"s":"Arkansas","m":"2023-10","v":-20},{"s":"Arkansas","m":"2023-11","v":-21},{"s":"Arkansas","m":"2023-12","v":-21},
{"s":"Arkansas","m":"2024-01","v":-22},{"s":"Arkansas","m":"2024-02","v":-25},{"s":"Arkansas","m":"2024-03","v":-26},{"s":"Arkansas","m":"2024-04","v":-28},{"s":"Arkansas","m":"2024-05","v":-29},{"s":"Arkansas","m":"2024-06","v":-33},{"s":"Arkansas","m":"2024-07","v":-35},
{"s":"Florida","m":"2020-01","v":-30},{"s":"Florida","m":"2020-02","v":-29},{"s":"Florida","m":"2020-03","v":-28},{"s":"Florida","m":"2020-04","v":-26},{"s":"Florida","m":"2020-05","v":-8},{"s":"Florida","m":"2020-06","v":-14},{"s":"Florida","m":"2020-07","v":-13},{"s":"Florida","m":"2020-08","v":-12},{"s":"Florida","m":"2020-09","v":-12},{"s":"Florida","m":"2020-10","v":-11},{"s":"Florida","m":"2020-11","v":-10},{"s":"Florida","m":"2020-12","v":-10},
{"s":"Florida","m":"2021-01","v":-10},{"s":"Florida","m":"2021-02","v":-9},{"s":"Florida","m":"2021-03","v":-9},{"s":"Florida","m":"2021-04","v":-4},{"s":"Florida","m":"2021-05","v":-3},{"s":"Florida","m":"2021-06","v":-3},{"s":"Florida","m":"2021-07","v":-3},{"s":"Florida","m":"2021-08","v":-3},{"s":"Florida","m":"2021-09","v":-3},{"s":"Florida","m":"2021-10","v":-2},{"s":"Florida","m":"2021-11","v":-2},{"s":"Florida","m":"2021-12","v":-2},
{"s":"Florida","m":"2022-01","v":-2},{"s":"Florida","m":"2022-02","v":-2},{"s":"Florida","m":"2022-03","v":-2},{"s":"Florida","m":"2022-04","v":-2},{"s":"Florida","m":"2022-05","v":-2},{"s":"Florida","m":"2022-06","v":-2},{"s":"Florida","m":"2022-07","v":-2},{"s":"Florida","m":"2022-08","v":-3},{"s":"Florida","m":"2022-09","v":-3},{"s":"Florida","m":"2022-10","v":-2},{"s":"Florida","m":"2022-11","v":-2},{"s":"Florida","m":"2022-12","v":-2},
{"s":"Florida","m":"2023-01","v":-3},{"s":"Florida","m":"2023-02","v":-3},{"s":"Florida","m":"2023-03","v":-3},{"s":"Florida","m":"2023-04","v":-3},{"s":"Florida","m":"2023-05","v":-3},{"s":"Florida","m":"2023-06","v":-3},{"s":"Florida","m":"2023-07","v":-3},{"s":"Florida","m":"2023-08","v":-3},{"s":"Florida","m":"2023-09","v":-4},{"s":"Florida","m":"2023-10","v":-4},{"s":"Florida","m":"2023-11","v":-4},{"s":"Florida","m":"2023-12","v":-5},
{"s":"Florida","m":"2024-01","v":-6},{"s":"Florida","m":"2024-02","v":-6},{"s":"Florida","m":"2024-03","v":-7},{"s":"Florida","m":"2024-04","v":-7},{"s":"Florida","m":"2024-05","v":-9},{"s":"Florida","m":"2024-06","v":-11},{"s":"Florida","m":"2024-07","v":-14},
{"s":"Illinois","m":"2020-01","v":-28},{"s":"Illinois","m":"2020-02","v":-27},{"s":"Illinois","m":"2020-03","v":-25},{"s":"Illinois","m":"2020-04","v":-22},{"s":"Illinois","m":"2020-05","v":-8},{"s":"Illinois","m":"2020-06","v":-13},{"s":"Illinois","m":"2020-07","v":-12},{"s":"Illinois","m":"2020-08","v":-12},{"s":"Illinois","m":"2020-09","v":-12},{"s":"Illinois","m":"2020-10","v":-12},{"s":"Illinois","m":"2020-11","v":-11},{"s":"Illinois","m":"2020-12","v":-11},
{"s":"Illinois","m":"2021-01","v":-10},{"s":"Illinois","m":"2021-02","v":-10},{"s":"Illinois","m":"2021-03","v":-9},{"s":"Illinois","m":"2021-04","v":-7},{"s":"Illinois","m":"2021-05","v":-7},{"s":"Illinois","m":"2021-06","v":-6},{"s":"Illinois","m":"2021-07","v":-6},{"s":"Illinois","m":"2021-08","v":-6},{"s":"Illinois","m":"2021-09","v":-6},{"s":"Illinois","m":"2021-10","v":-6},{"s":"Illinois","m":"2021-11","v":-5},{"s":"Illinois","m":"2021-12","v":-5},
{"s":"Illinois","m":"2022-01","v":-5},{"s":"Illinois","m":"2022-02","v":-4},{"s":"Illinois","m":"2022-03","v":-4},{"s":"Illinois","m":"2022-04","v":-4},{"s":"Illinois","m":"2022-05","v":-4},{"s":"Illinois","m":"2022-06","v":-4},{"s":"Illinois","m":"2022-07","v":-4},{"s":"Illinois","m":"2022-08","v":-4},{"s":"Illinois","m":"2022-09","v":-4},{"s":"Illinois","m":"2022-10","v":-5},{"s":"Illinois","m":"2022-11","v":-4},{"s":"Illinois","m":"2022-12","v":-4},
{"s":"Illinois","m":"2023-01","v":-4},{"s":"Illinois","m":"2023-02","v":-4},{"s":"Illinois","m":"2023-03","v":-4},{"s":"Illinois","m":"2023-04","v":-5},{"s":"Illinois","m":"2023-05","v":-5},{"s":"Illinois","m":"2023-06","v":-4},{"s":"Illinois","m":"2023-07","v":-5},{"s":"Illinois","m":"2023-08","v":-5},{"s":"Illinois","m":"2023-09","v":-6},{"s":"Illinois","m":"2023-10","v":-7},{"s":"Illinois","m":"2023-11","v":-8},{"s":"Illinois","m":"2023-12","v":-9},
{"s":"Illinois","m":"2024-01","v":-11},{"s":"Illinois","m":"2024-02","v":-12},{"s":"Illinois","m":"2024-03","v":-13},{"s":"Illinois","m":"2024-04","v":-16},{"s":"Illinois","m":"2024-05","v":-18},{"s":"Illinois","m":"2024-06","v":-20},{"s":"Illinois","m":"2024-07","v":-22},
{"s":"Montana","m":"2020-01","v":-31},{"s":"Montana","m":"2020-02","v":-30},{"s":"Montana","m":"2020-03","v":-29},{"s":"Montana","m":"2020-04","v":-26},{"s":"Montana","m":"2020-05","v":-25},{"s":"Montana","m":"2020-06","v":-24},{"s":"Montana","m":"2020-07","v":-28},{"s":"Montana","m":"2020-08","v":-28},{"s":"Montana","m":"2020-09","v":-27},{"s":"Montana","m":"2020-10","v":-26},{"s":"Montana","m":"2020-11","v":-24},{"s":"Montana","m":"2020-12","v":-23},
{"s":"Montana","m":"2021-01","v":-22},{"s":"Montana","m":"2021-02","v":-21},{"s":"Montana","m":"2021-03","v":-18},{"s":"Montana","m":"2021-04","v":-23},{"s":"Montana","m":"2021-05","v":-6},{"s":"Montana","m":"2021-06","v":-8},{"s":"Montana","m":"2021-07","v":-7},{"s":"Montana","m":"2021-08","v":-5},{"s":"Montana","m":"2021-09","v":-4},{"s":"Montana","m":"2021-10","v":-6},{"s":"Montana","m":"2021-11","v":-5},{"s":"Montana","m":"2021-12","v":-3},
{"s":"Montana","m":"2022-01","v":-3},{"s":"Montana","m":"2022-02","v":-2},{"s":"Montana","m":"2022-03","v":-2},{"s":"Montana","m":"2022-04","v":-5},{"s":"Montana","m":"2022-05","v":-6},{"s":"Montana","m":"2022-06","v":-10},{"s":"Montana","m":"2022-07","v":-7},{"s":"Montana","m":"2022-08","v":-6},{"s":"Montana","m":"2022-09","v":-5},{"s":"Montana","m":"2022-10","v":-6},{"s":"Montana","m":"2022-11","v":-7},{"s":"Montana","m":"2022-12","v":-6},
{"s":"Montana","m":"2023-01","v":-6},{"s":"Montana","m":"2023-02","v":-6},{"s":"Montana","m":"2023-03","v":-12},{"s":"Montana","m":"2023-04","v":-14},{"s":"Montana","m":"2023-05","v":-17},{"s":"Montana","m":"2023-06","v":-4},{"s":"Montana","m":"2023-07","v":-13},{"s":"Montana","m":"2023-08","v":-16},{"s":"Montana","m":"2023-09","v":-14},{"s":"Montana","m":"2023-10","v":-9},{"s":"Montana","m":"2023-11","v":-9},{"s":"Montana","m":"2023-12","v":-10},
{"s":"Montana","m":"2024-01","v":-10},{"s":"Montana","m":"2024-02","v":-12},{"s":"Montana","m":"2024-03","v":-12},{"s":"Montana","m":"2024-04","v":-12},{"s":"Montana","m":"2024-05","v":-14},{"s":"Montana","m":"2024-06","v":-12},{"s":"Montana","m":"2024-07","v":-4},
{"s":"New Mexico","m":"2020-01","v":-42},{"s":"New Mexico","m":"2020-02","v":-41},{"s":"New Mexico","m":"2020-03","v":-41},{"s":"New Mexico","m":"2020-04","v":-40},{"s":"New Mexico","m":"2020-05","v":-40},{"s":"New Mexico","m":"2020-06","v":-39},{"s":"New Mexico","m":"2020-07","v":-39},{"s":"New Mexico","m":"2020-08","v":-36},{"s":"New Mexico","m":"2020-09","v":-35},{"s":"New Mexico","m":"2020-10","v":-33},{"s":"New Mexico","m":"2020-11","v":-32},{"s":"New Mexico","m":"2020-12","v":-28},
{"s":"New Mexico","m":"2021-01","v":-26},{"s":"New Mexico","m":"2021-02","v":-22},{"s":"New Mexico","m":"2021-03","v":-20},{"s":"New Mexico","m":"2021-04","v":-14},{"s":"New Mexico","m":"2021-05","v":-13},{"s":"New Mexico","m":"2021-06","v":-10},{"s":"New Mexico","m":"2021-07","v":-4},{"s":"New Mexico","m":"2021-08","v":-6},{"s":"New Mexico","m":"2021-09","v":-7},{"s":"New Mexico","m":"2021-10","v":-7},{"s":"New Mexico","m":"2021-11","v":-6},{"s":"New Mexico","m":"2021-12","v":-6},
{"s":"New Mexico","m":"2022-01","v":-6},{"s":"New Mexico","m":"2022-02","v":-5},{"s":"New Mexico","m":"2022-03","v":-5},{"s":"New Mexico","m":"2022-04","v":-4},{"s":"New Mexico","m":"2022-05","v":-4},{"s":"New Mexico","m":"2022-06","v":-5},{"s":"New Mexico","m":"2022-07","v":-6},{"s":"New Mexico","m":"2022-08","v":-12},{"s":"New Mexico","m":"2022-09","v":-12},{"s":"New Mexico","m":"2022-10","v":-13},{"s":"New Mexico","m":"2022-11","v":-11},{"s":"New Mexico","m":"2022-12","v":-6},
{"s":"New Mexico","m":"2023-01","v":-4},{"s":"New Mexico","m":"2023-02","v":-14},{"s":"New Mexico","m":"2023-03","v":-14},{"s":"New Mexico","m":"2023-04","v":-11},{"s":"New Mexico","m":"2023-05","v":-11},{"s":"New Mexico","m":"2023-06","v":-6},{"s":"New Mexico","m":"2023-07","v":-5},{"s":"New Mexico","m":"2023-08","v":-5},{"s":"New Mexico","m":"2023-09","v":-5},{"s":"New Mexico","m":"2023-10","v":-5},{"s":"New Mexico","m":"2023-11","v":-5},{"s":"New Mexico","m":"2023-12","v":-6},
{"s":"New Mexico","m":"2024-01","v":-6},{"s":"New Mexico","m":"2024-02","v":-7},{"s":"New Mexico","m":"2024-03","v":-12},{"s":"New Mexico","m":"2024-04","v":-14},{"s":"New Mexico","m":"2024-05","v":-15},{"s":"New Mexico","m":"2024-06","v":-19},{"s":"New Mexico","m":"2024-07","v":-21},
{"s":"Wisconsin","m":"2020-01","v":-34},{"s":"Wisconsin","m":"2020-02","v":-33},{"s":"Wisconsin","m":"2020-03","v":-29},{"s":"Wisconsin","m":"2020-04","v":-28},{"s":"Wisconsin","m":"2020-05","v":-28},{"s":"Wisconsin","m":"2020-06","v":-27},{"s":"Wisconsin","m":"2020-07","v":-23},{"s":"Wisconsin","m":"2020-08","v":-22},{"s":"Wisconsin","m":"2020-09","v":-21},{"s":"Wisconsin","m":"2020-10","v":-21},{"s":"Wisconsin","m":"2020-11","v":-20},{"s":"Wisconsin","m":"2020-12","v":-20},
{"s":"Wisconsin","m":"2021-01","v":-19},{"s":"Wisconsin","m":"2021-02","v":-17},{"s":"Wisconsin","m":"2021-03","v":-16},{"s":"Wisconsin","m":"2021-04","v":-16},{"s":"Wisconsin","m":"2021-05","v":-15},{"s":"Wisconsin","m":"2021-06","v":-15},{"s":"Wisconsin","m":"2021-07","v":-15},{"s":"Wisconsin","m":"2021-08","v":-14},{"s":"Wisconsin","m":"2021-09","v":-14},{"s":"Wisconsin","m":"2021-10","v":-14},{"s":"Wisconsin","m":"2021-11","v":-15},{"s":"Wisconsin","m":"2021-12","v":-14},
{"s":"Wisconsin","m":"2022-01","v":-3},{"s":"Wisconsin","m":"2022-02","v":-2},{"s":"Wisconsin","m":"2022-03","v":-2},{"s":"Wisconsin","m":"2022-04","v":-2},{"s":"Wisconsin","m":"2022-05","v":-2},{"s":"Wisconsin","m":"2022-06","v":-2},{"s":"Wisconsin","m":"2022-07","v":-2},{"s":"Wisconsin","m":"2022-08","v":-2},{"s":"Wisconsin","m":"2022-09","v":-2},{"s":"Wisconsin","m":"2022-10","v":-1},{"s":"Wisconsin","m":"2022-11","v":-1},{"s":"Wisconsin","m":"2022-12","v":-1},
{"s":"Wisconsin","m":"2023-01","v":-2},{"s":"Wisconsin","m":"2023-02","v":-2},{"s":"Wisconsin","m":"2023-03","v":-2},{"s":"Wisconsin","m":"2023-04","v":-2},{"s":"Wisconsin","m":"2023-05","v":-1},{"s":"Wisconsin","m":"2023-06","v":-1},{"s":"Wisconsin","m":"2023-07","v":-1},{"s":"Wisconsin","m":"2023-08","v":-2},{"s":"Wisconsin","m":"2023-09","v":-2},{"s":"Wisconsin","m":"2023-10","v":-3},{"s":"Wisconsin","m":"2023-11","v":-4},{"s":"Wisconsin","m":"2023-12","v":-5},
{"s":"Wisconsin","m":"2024-01","v":-7},{"s":"Wisconsin","m":"2024-02","v":-8},{"s":"Wisconsin","m":"2024-03","v":-10},{"s":"Wisconsin","m":"2024-04","v":-12},{"s":"Wisconsin","m":"2024-05","v":-14},{"s":"Wisconsin","m":"2024-06","v":-19},{"s":"Wisconsin","m":"2024-07","v":-26},
{"s":"Louisiana","m":"2020-01","v":-50},{"s":"Louisiana","m":"2020-02","v":-49},{"s":"Louisiana","m":"2020-03","v":-48},{"s":"Louisiana","m":"2020-04","v":-45},{"s":"Louisiana","m":"2020-05","v":-40},{"s":"Louisiana","m":"2020-06","v":-39},{"s":"Louisiana","m":"2020-07","v":-38},{"s":"Louisiana","m":"2020-08","v":-34},{"s":"Louisiana","m":"2020-09","v":-33},{"s":"Louisiana","m":"2020-10","v":-32},{"s":"Louisiana","m":"2020-11","v":-31},{"s":"Louisiana","m":"2020-12","v":-27},
{"s":"Louisiana","m":"2021-01","v":-23},{"s":"Louisiana","m":"2021-02","v":-21},{"s":"Louisiana","m":"2021-03","v":-16},{"s":"Louisiana","m":"2021-04","v":-15},{"s":"Louisiana","m":"2021-05","v":-11},{"s":"Louisiana","m":"2021-06","v":-10},{"s":"Louisiana","m":"2021-07","v":-3},{"s":"Louisiana","m":"2021-08","v":-2},{"s":"Louisiana","m":"2021-09","v":-2},{"s":"Louisiana","m":"2021-10","v":-1},{"s":"Louisiana","m":"2021-11","v":-1},{"s":"Louisiana","m":"2021-12","v":-1},
{"s":"Louisiana","m":"2022-01","v":-1},{"s":"Louisiana","m":"2022-02","v":-2},{"s":"Louisiana","m":"2022-03","v":-2},{"s":"Louisiana","m":"2022-04","v":-2},{"s":"Louisiana","m":"2022-05","v":-2},{"s":"Louisiana","m":"2022-06","v":-2},{"s":"Louisiana","m":"2022-07","v":-2},{"s":"Louisiana","m":"2022-08","v":-2},{"s":"Louisiana","m":"2022-09","v":-3},{"s":"Louisiana","m":"2022-10","v":-3},{"s":"Louisiana","m":"2022-11","v":-3},{"s":"Louisiana","m":"2022-12","v":-3},
{"s":"Louisiana","m":"2023-01","v":-3},{"s":"Louisiana","m":"2023-02","v":-5},{"s":"Louisiana","m":"2023-03","v":-6},{"s":"Louisiana","m":"2023-04","v":-6},{"s":"Louisiana","m":"2023-05","v":-6},{"s":"Louisiana","m":"2023-06","v":-6},{"s":"Louisiana","m":"2023-07","v":-6},{"s":"Louisiana","m":"2023-08","v":-6},{"s":"Louisiana","m":"2023-09","v":-6},{"s":"Louisiana","m":"2023-10","v":-6},{"s":"Louisiana","m":"2023-11","v":-7},{"s":"Louisiana","m":"2023-12","v":-7},
{"s":"Louisiana","m":"2024-01","v":-8},{"s":"Louisiana","m":"2024-02","v":-10},{"s":"Louisiana","m":"2024-03","v":-12},{"s":"Louisiana","m":"2024-04","v":-14},{"s":"Louisiana","m":"2024-05","v":-17},{"s":"Louisiana","m":"2024-06","v":-20},{"s":"Louisiana","m":"2024-07","v":-23},
{"s":"Rhode Island","m":"2020-01","v":-33},{"s":"Rhode Island","m":"2020-02","v":-32},{"s":"Rhode Island","m":"2020-03","v":-32},{"s":"Rhode Island","m":"2020-04","v":-31},{"s":"Rhode Island","m":"2020-05","v":-30},{"s":"Rhode Island","m":"2020-06","v":-28},{"s":"Rhode Island","m":"2020-07","v":-27},{"s":"Rhode Island","m":"2020-08","v":-27},{"s":"Rhode Island","m":"2020-09","v":-26},{"s":"Rhode Island","m":"2020-10","v":-22},{"s":"Rhode Island","m":"2020-11","v":-21},{"s":"Rhode Island","m":"2020-12","v":-20},
{"s":"Rhode Island","m":"2021-01","v":-20},{"s":"Rhode Island","m":"2021-02","v":-19},{"s":"Rhode Island","m":"2021-03","v":-18},{"s":"Rhode Island","m":"2021-04","v":-18},{"s":"Rhode Island","m":"2021-05","v":-8},{"s":"Rhode Island","m":"2021-06","v":-15},{"s":"Rhode Island","m":"2021-07","v":-15},{"s":"Rhode Island","m":"2021-08","v":-15},{"s":"Rhode Island","m":"2021-09","v":-14},{"s":"Rhode Island","m":"2021-10","v":-8},{"s":"Rhode Island","m":"2021-11","v":-7},{"s":"Rhode Island","m":"2021-12","v":-6},
{"s":"Rhode Island","m":"2022-01","v":-6},{"s":"Rhode Island","m":"2022-02","v":-5},{"s":"Rhode Island","m":"2022-03","v":-5},{"s":"Rhode Island","m":"2022-04","v":-4},{"s":"Rhode Island","m":"2022-05","v":-4},{"s":"Rhode Island","m":"2022-06","v":-4},{"s":"Rhode Island","m":"2022-07","v":-4},{"s":"Rhode Island","m":"2022-08","v":-4},{"s":"Rhode Island","m":"2022-09","v":-4},{"s":"Rhode Island","m":"2022-10","v":-4},{"s":"Rhode Island","m":"2022-11","v":-5},{"s":"Rhode Island","m":"2022-12","v":-4},
{"s":"Rhode Island","m":"2023-01","v":-4},{"s":"Rhode Island","m":"2023-02","v":-6},{"s":"Rhode Island","m":"2023-03","v":-6},{"s":"Rhode Island","m":"2023-04","v":-7},{"s":"Rhode Island","m":"2023-05","v":-6},{"s":"Rhode Island","m":"2023-06","v":-6},{"s":"Rhode Island","m":"2023-07","v":-6},{"s":"Rhode Island","m":"2023-08","v":-7},{"s":"Rhode Island","m":"2023-09","v":-7},{"s":"Rhode Island","m":"2023-10","v":-8},{"s":"Rhode Island","m":"2023-11","v":-8},{"s":"Rhode Island","m":"2023-12","v":-9},
{"s":"Rhode Island","m":"2024-01","v":-9},{"s":"Rhode Island","m":"2024-02","v":-11},{"s":"Rhode Island","m":"2024-03","v":-12},{"s":"Rhode Island","m":"2024-04","v":-13},{"s":"Rhode Island","m":"2024-05","v":-14},{"s":"Rhode Island","m":"2024-06","v":-16},{"s":"Rhode Island","m":"2024-07","v":-18},
{"s":"Nebraska","m":"2020-01","v":-38},{"s":"Nebraska","m":"2020-02","v":-37},{"s":"Nebraska","m":"2020-03","v":-33},{"s":"Nebraska","m":"2020-04","v":-22},{"s":"Nebraska","m":"2020-05","v":-21},{"s":"Nebraska","m":"2020-06","v":-20},{"s":"Nebraska","m":"2020-07","v":-18},{"s":"Nebraska","m":"2020-08","v":-17},{"s":"Nebraska","m":"2020-09","v":-11},{"s":"Nebraska","m":"2020-10","v":-10},{"s":"Nebraska","m":"2020-11","v":-6},{"s":"Nebraska","m":"2020-12","v":-5},
{"s":"Nebraska","m":"2021-01","v":-5},{"s":"Nebraska","m":"2021-02","v":-5},{"s":"Nebraska","m":"2021-03","v":-2},{"s":"Nebraska","m":"2021-04","v":-8},{"s":"Nebraska","m":"2021-05","v":-9},{"s":"Nebraska","m":"2021-06","v":-9},{"s":"Nebraska","m":"2021-07","v":-8},{"s":"Nebraska","m":"2021-08","v":-4},{"s":"Nebraska","m":"2021-09","v":-2},{"s":"Nebraska","m":"2021-10","v":-2},{"s":"Nebraska","m":"2021-11","v":-2},{"s":"Nebraska","m":"2021-12","v":-2},
{"s":"Nebraska","m":"2022-01","v":-2},{"s":"Nebraska","m":"2022-02","v":-2},{"s":"Nebraska","m":"2022-03","v":-2},{"s":"Nebraska","m":"2022-04","v":-4},{"s":"Nebraska","m":"2022-05","v":-4},{"s":"Nebraska","m":"2022-06","v":-4},{"s":"Nebraska","m":"2022-07","v":-1},{"s":"Nebraska","m":"2022-08","v":-1},{"s":"Nebraska","m":"2022-09","v":-1},{"s":"Nebraska","m":"2022-10","v":-1},{"s":"Nebraska","m":"2022-11","v":-5},{"s":"Nebraska","m":"2022-12","v":-5},
{"s":"Nebraska","m":"2023-01","v":-5},{"s":"Nebraska","m":"2023-02","v":-6},{"s":"Nebraska","m":"2023-03","v":-6},{"s":"Nebraska","m":"2023-04","v":-5},{"s":"Nebraska","m":"2023-05","v":-5},{"s":"Nebraska","m":"2023-06","v":-19},{"s":"Nebraska","m":"2023-07","v":-20},{"s":"Nebraska","m":"2023-08","v":-20},{"s":"Nebraska","m":"2023-09","v":-22},{"s":"Nebraska","m":"2023-10","v":-24},{"s":"Nebraska","m":"2023-11","v":-28},{"s":"Nebraska","m":"2023-12","v":-29},
{"s":"Nebraska","m":"2024-01","v":-30},{"s":"Nebraska","m":"2024-02","v":-31},{"s":"Nebraska","m":"2024-03","v":-31},{"s":"Nebraska","m":"2024-04","v":-34},{"s":"Nebraska","m":"2024-05","v":-35},{"s":"Nebraska","m":"2024-06","v":-36},{"s":"Nebraska","m":"2024-07","v":-37},
{"s":"Iowa","m":"2020-01","v":-33},{"s":"Iowa","m":"2020-02","v":-32},{"s":"Iowa","m":"2020-03","v":-28},{"s":"Iowa","m":"2020-04","v":-23},{"s":"Iowa","m":"2020-05","v":-22},{"s":"Iowa","m":"2020-06","v":-16},{"s":"Iowa","m":"2020-07","v":-15},{"s":"Iowa","m":"2020-08","v":-15},{"s":"Iowa","m":"2020-09","v":-14},{"s":"Iowa","m":"2020-10","v":-14},{"s":"Iowa","m":"2020-11","v":-13},{"s":"Iowa","m":"2020-12","v":-13},
{"s":"Iowa","m":"2021-01","v":-12},{"s":"Iowa","m":"2021-02","v":-12},{"s":"Iowa","m":"2021-03","v":-13},{"s":"Iowa","m":"2021-04","v":-14},{"s":"Iowa","m":"2021-05","v":-14},{"s":"Iowa","m":"2021-06","v":-13},{"s":"Iowa","m":"2021-07","v":-13},{"s":"Iowa","m":"2021-08","v":-12},{"s":"Iowa","m":"2021-09","v":-9},{"s":"Iowa","m":"2021-10","v":-8},{"s":"Iowa","m":"2021-11","v":-8},{"s":"Iowa","m":"2021-12","v":-2},
{"s":"Iowa","m":"2022-01","v":-2},{"s":"Iowa","m":"2022-02","v":-2},{"s":"Iowa","m":"2022-03","v":-2},{"s":"Iowa","m":"2022-04","v":-5},{"s":"Iowa","m":"2022-05","v":-6},{"s":"Iowa","m":"2022-06","v":-7},{"s":"Iowa","m":"2022-07","v":-10},{"s":"Iowa","m":"2022-08","v":-12},{"s":"Iowa","m":"2022-09","v":-7},{"s":"Iowa","m":"2022-10","v":-6},{"s":"Iowa","m":"2022-11","v":-7},{"s":"Iowa","m":"2022-12","v":-7},
{"s":"Iowa","m":"2023-01","v":-8},{"s":"Iowa","m":"2023-02","v":-9},{"s":"Iowa","m":"2023-03","v":-10},{"s":"Iowa","m":"2023-04","v":-9},{"s":"Iowa","m":"2023-05","v":-10},{"s":"Iowa","m":"2023-06","v":-11},{"s":"Iowa","m":"2023-07","v":-10},{"s":"Iowa","m":"2023-08","v":-10},{"s":"Iowa","m":"2023-09","v":-9},{"s":"Iowa","m":"2023-10","v":-6},{"s":"Iowa","m":"2023-11","v":-5},{"s":"Iowa","m":"2023-12","v":-6},
{"s":"Iowa","m":"2024-01","v":-8},{"s":"Iowa","m":"2024-02","v":-10},{"s":"Iowa","m":"2024-03","v":-12},{"s":"Iowa","m":"2024-04","v":-13},{"s":"Iowa","m":"2024-05","v":-14},{"s":"Iowa","m":"2024-06","v":-15},{"s":"Iowa","m":"2024-07","v":-16},
{"s":"New Hampshire","m":"2020-01","v":-20},{"s":"New Hampshire","m":"2020-02","v":-19},{"s":"New Hampshire","m":"2020-03","v":-19},{"s":"New Hampshire","m":"2020-04","v":-18},{"s":"New Hampshire","m":"2020-05","v":-17},{"s":"New Hampshire","m":"2020-06","v":-17},{"s":"New Hampshire","m":"2020-07","v":-16},{"s":"New Hampshire","m":"2020-08","v":-11},{"s":"New Hampshire","m":"2020-09","v":-10},{"s":"New Hampshire","m":"2020-10","v":-10},{"s":"New Hampshire","m":"2020-11","v":-11},{"s":"New Hampshire","m":"2020-12","v":-16},
{"s":"New Hampshire","m":"2021-01","v":-17},{"s":"New Hampshire","m":"2021-02","v":-18},{"s":"New Hampshire","m":"2021-03","v":-18},{"s":"New Hampshire","m":"2021-04","v":-23},{"s":"New Hampshire","m":"2021-05","v":-24},{"s":"New Hampshire","m":"2021-06","v":-25},{"s":"New Hampshire","m":"2021-07","v":-24},{"s":"New Hampshire","m":"2021-08","v":-24},{"s":"New Hampshire","m":"2021-09","v":-19},{"s":"New Hampshire","m":"2021-10","v":-18},{"s":"New Hampshire","m":"2021-11","v":-18},{"s":"New Hampshire","m":"2021-12","v":-2},
{"s":"New Hampshire","m":"2022-01","v":-4},{"s":"New Hampshire","m":"2022-02","v":-4},{"s":"New Hampshire","m":"2022-03","v":-3},{"s":"New Hampshire","m":"2022-04","v":-4},{"s":"New Hampshire","m":"2022-05","v":-4},{"s":"New Hampshire","m":"2022-06","v":-4},{"s":"New Hampshire","m":"2022-07","v":-5},{"s":"New Hampshire","m":"2022-08","v":-5},{"s":"New Hampshire","m":"2022-09","v":-5},{"s":"New Hampshire","m":"2022-10","v":-6},{"s":"New Hampshire","m":"2022-11","v":-6},{"s":"New Hampshire","m":"2022-12","v":-5},
{"s":"New Hampshire","m":"2023-01","v":-5},{"s":"New Hampshire","m":"2023-02","v":-4},{"s":"New Hampshire","m":"2023-03","v":-4},{"s":"New Hampshire","m":"2023-04","v":-5},{"s":"New Hampshire","m":"2023-05","v":-5},{"s":"New Hampshire","m":"2023-06","v":-8},{"s":"New Hampshire","m":"2023-07","v":-9},{"s":"New Hampshire","m":"2023-08","v":-10},{"s":"New Hampshire","m":"2023-09","v":-11},{"s":"New Hampshire","m":"2023-10","v":-12},{"s":"New Hampshire","m":"2023-11","v":-14},{"s":"New Hampshire","m":"2023-12","v":-16},
{"s":"New Hampshire","m":"2024-01","v":-17},{"s":"New Hampshire","m":"2024-02","v":-19},{"s":"New Hampshire","m":"2024-03","v":-20},{"s":"New Hampshire","m":"2024-04","v":-22},{"s":"New Hampshire","m":"2024-05","v":-23},{"s":"New Hampshire","m":"2024-06","v":-25},{"s":"New Hampshire","m":"2024-07","v":-27},
{"s":"Kansas","m":"2020-01","v":-50},{"s":"Kansas","m":"2020-02","v":-50},{"s":"Kansas","m":"2020-03","v":-49},{"s":"Kansas","m":"2020-04","v":-49},{"s":"Kansas","m":"2020-05","v":-49},{"s":"Kansas","m":"2020-06","v":-48},{"s":"Kansas","m":"2020-07","v":-48},{"s":"Kansas","m":"2020-08","v":-45},{"s":"Kansas","m":"2020-09","v":-44},{"s":"Kansas","m":"2020-10","v":-41},{"s":"Kansas","m":"2020-11","v":-40},{"s":"Kansas","m":"2020-12","v":-37},
{"s":"Kansas","m":"2021-01","v":-36},{"s":"Kansas","m":"2021-02","v":-33},{"s":"Kansas","m":"2021-03","v":-31},{"s":"Kansas","m":"2021-04","v":-26},{"s":"Kansas","m":"2021-05","v":-25},{"s":"Kansas","m":"2021-06","v":-25},{"s":"Kansas","m":"2021-07","v":-24},{"s":"Kansas","m":"2021-08","v":-10},{"s":"Kansas","m":"2021-09","v":-16},{"s":"Kansas","m":"2021-10","v":-15},{"s":"Kansas","m":"2021-11","v":-15},{"s":"Kansas","m":"2021-12","v":-14},
{"s":"Kansas","m":"2022-01","v":-13},{"s":"Kansas","m":"2022-02","v":-10},{"s":"Kansas","m":"2022-03","v":-9},{"s":"Kansas","m":"2022-04","v":-7},{"s":"Kansas","m":"2022-05","v":-6},{"s":"Kansas","m":"2022-06","v":-6},{"s":"Kansas","m":"2022-07","v":-6},{"s":"Kansas","m":"2022-08","v":-5},{"s":"Kansas","m":"2022-09","v":-5},{"s":"Kansas","m":"2022-10","v":-4},{"s":"Kansas","m":"2022-11","v":-2},{"s":"Kansas","m":"2022-12","v":-2},
{"s":"Kansas","m":"2023-01","v":-4},{"s":"Kansas","m":"2023-02","v":-6},{"s":"Kansas","m":"2023-03","v":-8},{"s":"Kansas","m":"2023-04","v":-8},{"s":"Kansas","m":"2023-05","v":-8},{"s":"Kansas","m":"2023-06","v":-10},{"s":"Kansas","m":"2023-07","v":-10},{"s":"Kansas","m":"2023-08","v":-10},{"s":"Kansas","m":"2023-09","v":-10},{"s":"Kansas","m":"2023-10","v":-13},{"s":"Kansas","m":"2023-11","v":-14},{"s":"Kansas","m":"2023-12","v":-15},
{"s":"Kansas","m":"2024-01","v":-17},{"s":"Kansas","m":"2024-02","v":-18},{"s":"Kansas","m":"2024-03","v":-19},{"s":"Kansas","m":"2024-04","v":-20},{"s":"Kansas","m":"2024-05","v":-21},{"s":"Kansas","m":"2024-06","v":-22},{"s":"Kansas","m":"2024-07","v":-23},
{"s":"Maine","m":"2020-01","v":-46},{"s":"Maine","m":"2020-02","v":-46},{"s":"Maine","m":"2020-03","v":-45},{"s":"Maine","m":"2020-04","v":-45},{"s":"Maine","m":"2020-05","v":-44},{"s":"Maine","m":"2020-06","v":-43},{"s":"Maine","m":"2020-07","v":-42},{"s":"Maine","m":"2020-08","v":-38},{"s":"Maine","m":"2020-09","v":-37},{"s":"Maine","m":"2020-10","v":-37},{"s":"Maine","m":"2020-11","v":-36},{"s":"Maine","m":"2020-12","v":-35},
{"s":"Maine","m":"2021-01","v":-34},{"s":"Maine","m":"2021-02","v":-31},{"s":"Maine","m":"2021-03","v":-30},{"s":"Maine","m":"2021-04","v":-29},{"s":"Maine","m":"2021-05","v":-28},{"s":"Maine","m":"2021-06","v":-27},{"s":"Maine","m":"2021-07","v":-25},{"s":"Maine","m":"2021-08","v":-21},{"s":"Maine","m":"2021-09","v":-20},{"s":"Maine","m":"2021-10","v":-19},{"s":"Maine","m":"2021-11","v":-18},{"s":"Maine","m":"2021-12","v":-16},
{"s":"Maine","m":"2022-01","v":-15},{"s":"Maine","m":"2022-02","v":-9},{"s":"Maine","m":"2022-03","v":-9},{"s":"Maine","m":"2022-04","v":-8},{"s":"Maine","m":"2022-05","v":-8},{"s":"Maine","m":"2022-06","v":-7},{"s":"Maine","m":"2022-07","v":-7},{"s":"Maine","m":"2022-08","v":-6},{"s":"Maine","m":"2022-09","v":-6},{"s":"Maine","m":"2022-10","v":-5},{"s":"Maine","m":"2022-11","v":-4},{"s":"Maine","m":"2022-12","v":-3},
{"s":"Maine","m":"2023-01","v":-10},{"s":"Maine","m":"2023-02","v":-11},{"s":"Maine","m":"2023-03","v":-12},{"s":"Maine","m":"2023-04","v":-12},{"s":"Maine","m":"2023-05","v":-13},{"s":"Maine","m":"2023-06","v":-14},{"s":"Maine","m":"2023-07","v":-15},{"s":"Maine","m":"2023-08","v":-16},{"s":"Maine","m":"2023-09","v":-17},{"s":"Maine","m":"2023-10","v":-18},{"s":"Maine","m":"2023-11","v":-19},{"s":"Maine","m":"2023-12","v":-19},
{"s":"Maine","m":"2024-01","v":-20},{"s":"Maine","m":"2024-02","v":-21},{"s":"Maine","m":"2024-03","v":-22},{"s":"Maine","m":"2024-04","v":-23},{"s":"Maine","m":"2024-05","v":-24},{"s":"Maine","m":"2024-06","v":-25},{"s":"Maine","m":"2024-07","v":-26}
]
},
"layer": [
{
"data": {"name": "cells"},
"mark": {"type": "rect", "strokeWidth": 0.6, "stroke": {"expr": "scale('color', datum.v)"}},
"encoding": {
"x": {"field": "m", "type": "ordinal", "sort": "ascending", "scale": {"paddingInner": 0, "paddingOuter": 0},
"axis": {"orient": "top", "title": null, "values": ["2020-01","2021-01","2022-01","2023-01","2024-01"], "labelExpr": "substring(datum.value, 0, 4)", "bandPosition": 0, "labelAngle": 0, "labelColor": "#9a9a9a", "labelFontSize": 10.5, "labelFont": "DejaVu Sans", "ticks": false, "domain": false, "labelPadding": 13.5, "grid": true, "gridColor": "#8c8c8c", "gridWidth": 1, "gridOpacity": {"condition": {"test": "datum.value === '2020-01'", "value": 0}, "value": 0.85}, "zindex": 1}},
"y": {"field": "s", "type": "nominal", "sort": ["Ohio","West Virginia","Maryland","Pennsylvania","Connecticut","Kentucky","South Dakota","Mississippi","New Jersey","Colorado","Indiana","Michigan","Arkansas","Florida","Illinois","Montana","New Mexico","Wisconsin","Louisiana","Rhode Island","Nebraska","Iowa","New Hampshire","Kansas","Maine"],
"scale": {"paddingInner": 0, "paddingOuter": 0, "domain": ["Ohio","West Virginia","Maryland","Pennsylvania","Connecticut","Kentucky","South Dakota","Mississippi","New Jersey","Colorado","Indiana","Michigan","Arkansas","Florida","Illinois","Montana","New Mexico","Wisconsin","Louisiana","Rhode Island","Nebraska","Iowa","New Hampshire","Kansas","Maine"]},
"axis": {"title": null, "labelColor": "#e6e6e6", "labelFontSize": 8, "labelFont": "DejaVu Sans", "tickColor": "#b0b0b0", "tickSize": 4, "domain": false, "labelPadding": 2, "grid": false}},
"color": {"field": "v", "type": "quantitative",
"scale": {"type": "linear", "domain": [-70, -61.25, -52.5, -43.75, -35, -26.25, -17.5, -8.75, 0], "range": ["#fcfbfd", "#efedf5", "#dadaeb", "#bcbddc", "#9e9ac8", "#807dba", "#6a51a3", "#54278f", "#3f007d"], "interpolate": "rgb"},
"legend": {"type": "gradient", "title": "Less than Cumulative Peak Month", "orient": "none", "direction": "vertical", "legendX": 695, "legendY": -21, "gradientLength": 667, "gradientThickness": 33, "gradientStrokeWidth": 0, "values": [0, -10, -20, -30], "labelExpr": "datum.value + '%'", "titleColor": "white", "labelColor": "#f0f0f0", "titleFont": "DejaVu Sans", "labelFont": "DejaVu Sans", "titleFontSize": 11.3, "titleFontWeight": "normal", "titleLimit": 400, "titlePadding": 9, "labelFontSize": 9.5, "labelOffset": 7, "labelBaseline": "middle", "encode": {"title": {"update": {"dx": {"value": -78}}}, "labels": {"update": {"baseline": {"value": "middle"}, "dy": {"value": 1.5}}}}}}
}
},
{
"data": {"name": "spans"},
"mark": {"type": "rect", "filled": false, "color": "#FFA500", "strokeOpacity": 0.8, "strokeWidth": 1},
"encoding": {
"x": {"field": "a", "type": "ordinal", "bandPosition": 0},
"x2": {"field": "b", "bandPosition": 1},
"y": {"field": "s", "type": "nominal", "sort": ["Ohio","West Virginia","Maryland","Pennsylvania","Connecticut","Kentucky","South Dakota","Mississippi","New Jersey","Colorado","Indiana","Michigan","Arkansas","Florida","Illinois","Montana","New Mexico","Wisconsin","Louisiana","Rhode Island","Nebraska","Iowa","New Hampshire","Kansas","Maine"]}
}
},
{
"data": {"name": "peaks"},
"mark": {"type": "rect", "color": "#FFA500"},
"encoding": {
"x": {"field": "m", "type": "ordinal"},
"y": {"field": "s", "type": "nominal", "sort": ["Ohio","West Virginia","Maryland","Pennsylvania","Connecticut","Kentucky","South Dakota","Mississippi","New Jersey","Colorado","Indiana","Michigan","Arkansas","Florida","Illinois","Montana","New Mexico","Wisconsin","Louisiana","Rhode Island","Nebraska","Iowa","New Hampshire","Kansas","Maine"]}
}
}
],
"config": {"font": "DejaVu Sans", "view": {"stroke": null}}
}
